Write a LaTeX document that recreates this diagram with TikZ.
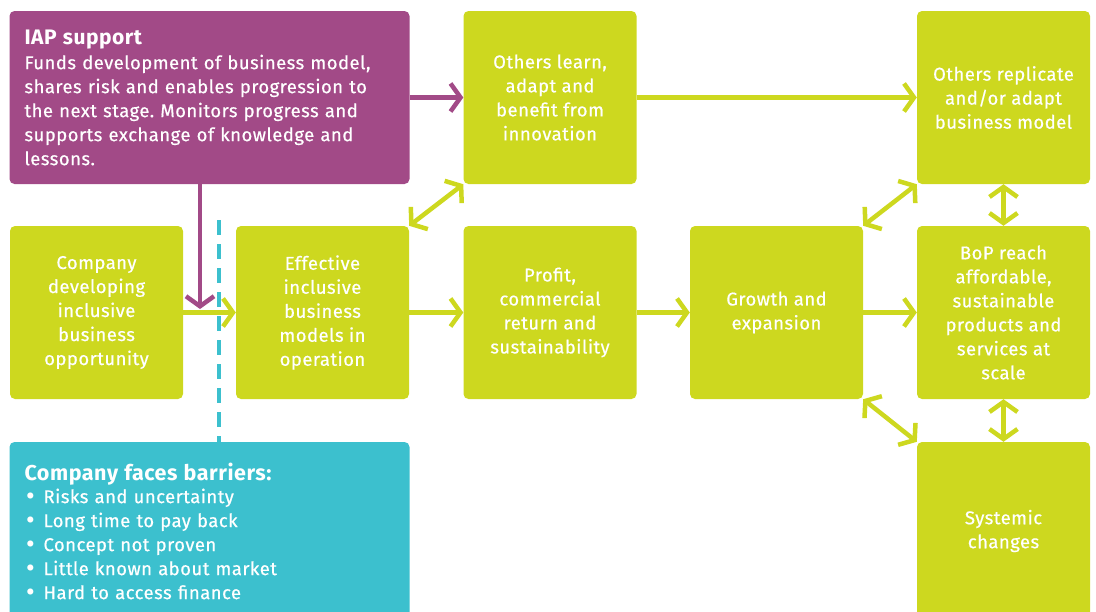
\documentclass[tikz,border=0pt]{standalone}
\usepackage{fontspec}
\setmainfont{Fira Sans}[LetterSpace=2.5, FakeBold=0.5, BoldFeatures={FakeBold=0}]
\usetikzlibrary{arrows.meta}
\definecolor{iappurple}{HTML}{A24A87}
\definecolor{limegreen}{HTML}{CDD81F}
\definecolor{barcyan}{HTML}{3CC0CE}
\newcommand{\barbullet}{\hspace*{2pt}\makebox[17pt][l]{\fontsize{22}{24}\selectfont\bfseries •}}
\frenchspacing
\begin{document}
\begin{tikzpicture}[x=1pt,y=-1pt,
  lbox/.style={fill=limegreen, rounded corners=5pt, minimum width=173pt, minimum height=173pt,
    inner sep=0pt, text=white, align=center, font=\fontsize{18.5}{24}\selectfont},
  pbox/.style={fill=iappurple, rounded corners=5pt, minimum width=400pt, minimum height=173pt,
    inner xsep=15pt, inner ysep=0pt, text width=370pt, text=white, align=left, font=\fontsize{18.5}{24}\selectfont},
  cbox/.style={fill=barcyan, rounded corners=5pt, minimum width=400pt, minimum height=178pt,
    inner xsep=15pt, inner ysep=0pt, text width=370pt, text=white, align=left, font=\fontsize{18.5}{24}\selectfont},
  larr/.style={draw=limegreen, line width=4.5pt, -{Straight Barb[length=10pt, width=28pt, line width=4.5pt]}},
  ldarr/.style={draw=limegreen, line width=4.5pt, {Straight Barb[length=10pt, width=28pt, line width=4.5pt]}-{Straight Barb[length=10pt, width=28pt, line width=4.5pt]}},
  parr/.style={draw=iappurple, line width=4.5pt, -{Straight Barb[length=10pt, width=28pt, line width=4.5pt]}},
  cdash/.style={draw=barcyan, line width=4pt, dash pattern=on 15pt off 9pt}
]
\useasboundingbox (0,0) rectangle (1096,611);
\clip (0,0) rectangle (1096,611);

% top row
\node[pbox] (iap) at (209.5,97.5) {{\bfseries\fontsize{21}{28}\selectfont IAP support}\\[1pt]
Funds development of business model,\\
shares risk and enables progression to\\
the next stage. Monitors progress and\\
supports exchange of knowledge and\\
lessons.};
\node[lbox] (learn) at (550,97.5) {Others learn,\\adapt and\\benefit from\\innovation};
\node[lbox] (repl) at (1003.5,97.5) {Others replicate\\and/or adapt\\business model};

% middle row
\node[lbox] (comp) at (96.5,312.5) {Company\\developing\\inclusive\\business\\opportunity};
\node[lbox] (eff) at (322.5,312.5) {Effective\\inclusive\\business\\models in\\operation};
\node[lbox] (profit) at (550,312.5) {Profit,\\commercial\\return and\\sustainability};
\node[lbox] (growth) at (776.5,312.5) {Growth and\\expansion};
\node[lbox] (bop) at (1003.5,312.5) {BoP reach\\affordable,\\sustainable\\products and\\services at\\scale};

% bottom row
\node[cbox] (barr) at (209.5,531) {{\bfseries\fontsize{21.5}{26}\selectfont Company faces barriers:}\\[-1pt]
\barbullet Risks and uncertainty\\
\barbullet Long time to pay back\\
\barbullet Concept not proven\\
\barbullet Little known about market\\
\barbullet Hard to access finance};
\node[lbox, minimum height=178pt] (sys) at (1003.5,531) {Systemic\\changes};

% connectors
\draw[parr] (iap) -- (learn);
\draw[larr] (learn) -- (repl);
\draw[larr] (comp) -- (eff);
\draw[larr] (eff) -- (profit);
\draw[larr] (profit) -- (growth);
\draw[larr] (growth) -- (bop);
\draw[ldarr] (eff.north east) -- (learn.south west);
\draw[ldarr] (growth.north east) -- (repl.south west);
\draw[ldarr] (growth.south east) -- (sys.north west);
\draw[ldarr] (repl) -- (bop);
\draw[ldarr] (bop) -- (sys.north);

\coordinate (downend) at (200,309);
\draw[parr] (iap.south -| downend) -- (downend);
\coordinate (dashtop) at (219,220);
\draw[cdash] (dashtop) -- (dashtop |- barr.north);
\end{tikzpicture}
\end{document}
